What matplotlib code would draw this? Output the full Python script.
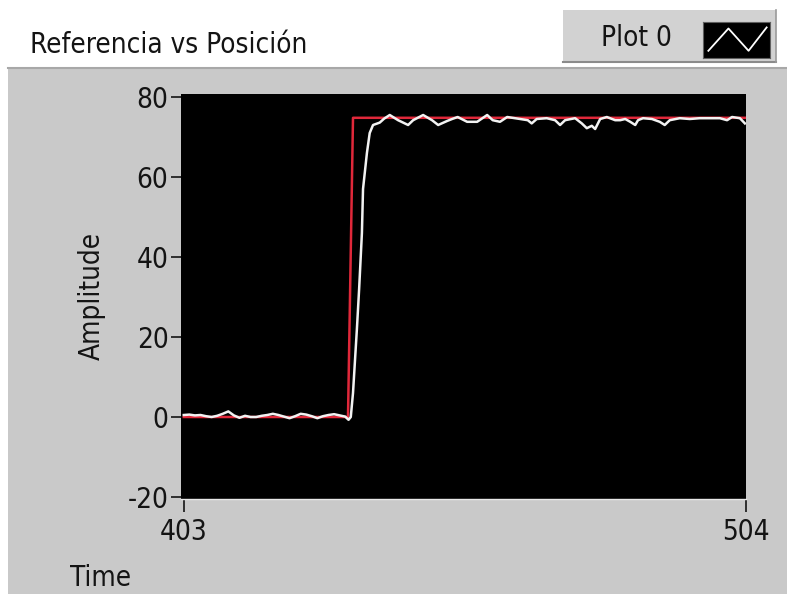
import matplotlib
matplotlib.use("Agg")
import matplotlib.pyplot as plt
from matplotlib.patches import Rectangle
from matplotlib.lines import Line2D

W, H = 787, 594

# Reference (setpoint) signal
ref_time = [403, 432.5, 433.4, 504]
ref_value = [0, 0, 74.8, 74.8]

# Measured position signal
pos_time = [403, 404, 405, 406, 407, 408, 409, 410, 411, 412, 413, 414, 415,
            416, 417, 418, 419, 420, 421, 422, 423, 424, 425, 426, 427, 428,
            429, 430, 431, 432, 432.6, 433.0, 433.4, 434.1, 434.5, 435.0,
            435.2, 435.9, 436.4, 437.0, 438.2, 439.0, 440.0, 441.5, 443.3,
            444.2, 446.0, 447.6, 448.7, 450.3, 451.2, 452.2, 453.9, 455.7,
            457.5, 458.5, 459.8, 461.1, 462.5, 464.8, 465.5, 466.4, 468.2,
            469.7, 470.6, 471.5, 473.3, 474.5, 475.4, 476.3, 476.9, 477.8,
            479.0, 480.5, 481.4, 482.3, 483.2, 484.1, 484.6, 485.5, 487.1,
            488.5, 489.4, 490.3, 492.1, 493.9, 495.7, 497.5, 499.3, 500.6,
            501.5, 502.9, 503.8]
pos_value = [0.5, 0.6, 0.4, 0.5, 0.2, 0.0, 0.3, 0.8, 1.4, 0.4, -0.2, 0.3, 0.0,
             0.0, 0.3, 0.5, 0.8, 0.5, 0.1, -0.3, 0.2, 0.8, 0.6, 0.2, -0.3, 0.2,
             0.5, 0.7, 0.4, 0.1, -0.7, 0.0, 6, 22, 32, 46,
             57, 66, 71, 73.0, 73.6, 74.6, 75.5, 74.2, 73.0,
             74.2, 75.5, 74.2, 73.0, 74.0, 74.5, 75.0, 73.8, 73.8,
             75.5, 74.2, 73.8, 75.0, 74.7, 74.2, 73.4, 74.5, 74.7,
             74.2, 73.0, 74.2, 74.7, 73.4, 72.2, 72.8, 72.0, 74.5,
             75.0, 74.2, 74.2, 74.5, 73.8, 73.0, 74.2, 74.7, 74.5,
             73.8, 73.0, 74.2, 74.7, 74.5, 74.7, 74.7, 74.7, 74.2,
             75.0, 74.7, 73.4]

x_ticks = [403, 504]
y_ticks = [-20, 0, 20, 40, 60, 80]

TEXT = "#141414"
PANEL = "#c9c9c9"
FONT = dict(family="DejaVu Sans", stretch="condensed")
FS = 20


def rect(x0, y0, x1, y1):
    """Pixel box (top-left origin) -> figure fraction [l, b, w, h]."""
    return [x0 / W, 1 - y1 / H, (x1 - x0) / W, (y1 - y0) / H]


def fx(x):
    return x / W


def fy(y):
    return 1 - y / H


fig = plt.figure(figsize=(W / 100, H / 100), dpi=100, facecolor="white")

# Grey chart frame
fig.patches.append(Rectangle((fx(8), fy(594)), fx(787) - fx(8), fy(68) - fy(594),
                             transform=fig.transFigure, facecolor=PANEL,
                             edgecolor="none", zorder=-5))
fig.add_artist(Line2D([fx(8), fx(787)], [fy(68), fy(68)], color="#a8a8a8",
                      lw=1.5, zorder=-4))

# Legend box
fig.patches.append(Rectangle((fx(563), fy(62)), fx(776) - fx(563), fy(10) - fy(62),
                             transform=fig.transFigure, facecolor="#d2d2d2",
                             edgecolor="none", zorder=-5))
fig.add_artist(Line2D([fx(563), fx(776)], [fy(62), fy(62)], color="#8a8a8a",
                      lw=1.5, zorder=-4))
fig.add_artist(Line2D([fx(776), fx(776)], [fy(10), fy(62)], color="#9a9a9a",
                      lw=1.2, zorder=-4))
fig.text(fx(636), fy(38), "Plot 0", ha="center", va="center", fontsize=FS,
         color=TEXT, **FONT)
icon = fig.add_axes(rect(703, 22, 770, 58))
icon.set_facecolor("black")
icon.plot([0.08, 0.38, 0.68, 0.95], [0.2, 0.82, 0.2, 0.85], color="white", lw=1.3)
icon.set_xlim(0, 1)
icon.set_ylim(0, 1)
icon.set_xticks([])
icon.set_yticks([])
for s in icon.spines.values():
    s.set_color("#606060")

# Chart title
fig.text(fx(30), fy(45), "Referencia vs Posición", ha="left", va="center",
         fontsize=FS, color=TEXT, **FONT)

# Plot area
ax = fig.add_axes(rect(181, 94, 746, 499))
ax.set_facecolor("black")
ax.plot(ref_time, ref_value, color="#e0283a", lw=1.8, zorder=2)
ax.plot(pos_time, pos_value, color="#f2f2f2", lw=1.8, zorder=3)
ax.set_xlim(402.5, 504)
ax.set_ylim(-20.5, 80.75)
ax.set_xticks(x_ticks)
ax.set_yticks(y_ticks)
ax.set_xticklabels([str(v) for v in x_ticks], **FONT)
ax.set_yticklabels([str(v) for v in y_ticks], **FONT)
ax.tick_params(axis="y", direction="out", length=7, width=1.2, colors=TEXT,
               labelsize=FS, pad=2)
ax.tick_params(axis="x", direction="out", length=9, width=1.2, colors=TEXT,
               labelsize=FS, pad=5)
for s in ax.spines.values():
    s.set_visible(False)
ax.spines["bottom"].set_visible(True)
ax.spines["bottom"].set_color("#e8e8e8")
ax.spines["bottom"].set_linewidth(1.0)

fig.text(fx(92), fy(296), "Amplitude", rotation=90, ha="center", va="center",
         fontsize=FS, color=TEXT, **FONT)
fig.text(fx(70), fy(578), "Time", ha="left", va="center", fontsize=FS,
         color=TEXT, **FONT)

fig.savefig("out.png", dpi=100, facecolor=fig.get_facecolor())
